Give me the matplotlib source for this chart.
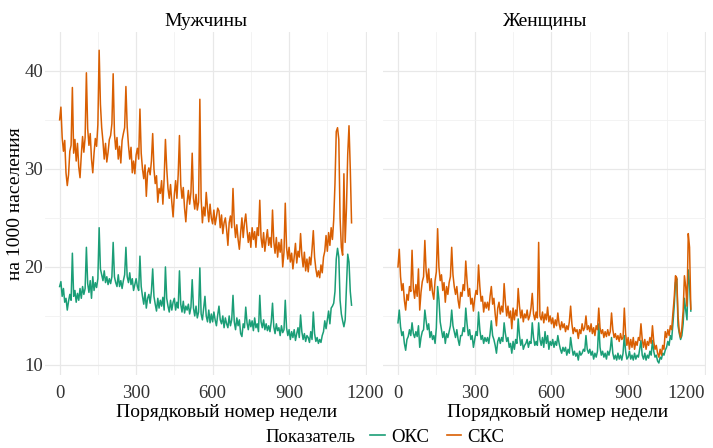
import matplotlib.pyplot as plt
from matplotlib.lines import Line2D

# ordinal week number, sampled every 5 weeks
weeks = list(range(0, 1150, 5))

# men, СКС (rows of 50 weeks)
men_sks = [
    35.0, 36.3, 33.2, 31.8, 32.9, 29.6, 28.3, 29.4, 31.8, 32.4,
    38.3, 31.6, 33.0, 30.8, 32.6, 30.2, 29.1, 31.4, 33.3, 31.7,
    33.2, 39.8, 34.1, 32.4, 33.6, 31.0, 29.6, 31.6, 33.1, 32.3,
    34.5, 42.1, 36.6, 34.2, 32.8, 31.0, 32.6, 30.7, 31.7, 33.0,
    33.4, 34.6, 39.7, 33.6, 32.0, 33.2, 31.0, 32.3, 30.6, 32.9,
    33.6, 34.2, 38.4, 34.3, 32.4, 31.0, 32.2, 29.6, 30.8, 29.5,
    31.4, 32.1, 31.0, 36.1, 31.6, 30.0, 29.0, 30.4, 27.2, 29.6,
    30.1, 29.4, 30.8, 33.6, 30.0, 28.5, 29.3, 26.6, 28.0, 27.5,
    28.8, 26.4, 29.0, 33.0, 30.1, 28.0, 27.0, 28.4, 26.6, 25.1,
    27.4, 28.8, 27.0, 29.4, 33.4, 28.4, 27.0, 28.1, 26.0, 24.6,
    26.6, 27.8, 26.4, 27.6, 31.6, 27.0, 25.9, 27.4, 25.8, 26.6,
    37.1, 27.0, 24.5, 26.1, 25.2, 27.6, 26.0, 24.6, 26.4, 25.0,
    24.4, 25.8, 24.3, 25.1, 26.0, 25.7, 24.0, 25.3, 23.4, 24.5,
    25.0, 23.8, 22.2, 24.5, 25.2, 24.0, 28.0, 24.5, 23.0, 24.3,
    22.8, 21.8, 23.5, 25.0, 23.0, 24.5, 25.4, 23.8, 22.5, 23.5,
    22.0, 24.0, 22.8, 23.6, 22.0, 24.0, 23.2, 26.8, 23.0, 22.0,
    23.5, 21.6, 22.8, 23.8, 22.2, 23.0, 22.0, 25.8, 22.6, 21.4,
    23.0, 21.0, 22.5, 21.5, 22.8, 20.0, 21.5, 26.5, 22.0, 20.8,
    22.0, 20.5, 21.4, 19.8, 21.0, 22.4, 20.4, 21.6, 21.0, 23.4,
    21.2, 20.0, 21.5, 19.6, 20.8, 19.5, 21.0, 20.2, 21.8, 23.7,
    21.0, 19.8, 19.0, 19.6, 18.9, 20.2, 19.4, 21.0, 21.6, 23.2,
    21.6, 23.5, 22.2, 24.0, 22.8, 24.8, 28.5, 33.8, 34.2, 33.0,
    25.0, 22.0, 21.2, 29.5, 22.5, 26.0, 31.5, 34.4, 30.0, 24.5,
]

# men, ОКС
men_oks = [
    18.0, 18.5, 17.0, 17.8, 16.4, 16.8, 15.6, 16.5, 17.2, 16.6,
    21.4, 17.0, 17.6, 16.4, 17.3, 16.6, 17.8, 16.8, 18.0, 17.2,
    17.8, 22.0, 18.3, 17.4, 18.6, 16.8, 19.0, 17.6, 18.4, 17.9,
    18.8, 24.0, 19.8, 19.2, 18.6, 19.6, 18.4, 19.0, 18.2, 18.8,
    18.3, 19.0, 22.5, 19.0, 18.4, 18.0, 19.2, 18.0, 18.6, 17.8,
    18.6, 19.2, 22.0, 19.0, 18.4, 19.4, 18.2, 18.8, 17.6, 18.2,
    18.8, 18.0, 17.6, 21.1, 18.0, 17.0, 16.2, 17.4, 15.8, 16.8,
    17.2, 16.3, 17.5, 19.8, 17.0, 16.2, 15.5, 16.8, 15.8, 16.6,
    16.0, 16.9, 15.6, 20.0, 16.8, 16.0, 15.4, 16.6, 15.6, 16.4,
    16.8, 15.6, 16.4, 15.8, 19.6, 16.2, 15.4, 16.5, 15.3, 16.0,
    15.6, 16.2, 15.2, 15.9, 18.7, 15.8, 15.0, 16.0, 14.8, 15.4,
    19.9, 15.2, 14.6, 15.8, 17.0, 15.0, 14.4, 15.6, 14.3, 15.2,
    14.4, 15.4, 14.6, 14.0, 15.1, 16.0, 14.6, 14.2, 15.0, 13.8,
    14.8, 14.2, 13.8, 15.0, 14.0, 14.6, 17.1, 14.4, 13.6, 14.8,
    14.0, 14.6, 13.2, 12.9, 14.2, 13.8, 15.9, 14.3, 13.6, 14.6,
    13.9, 14.5, 13.5, 14.8, 13.8, 14.2, 13.4, 17.1, 14.4, 13.8,
    14.6, 13.6, 14.2, 13.5, 14.0, 13.4, 14.4, 16.3, 13.9, 13.2,
    14.2, 13.5, 13.8, 13.0, 14.0, 13.3, 13.6, 16.6, 13.8, 13.0,
    13.6, 12.6, 13.4, 12.8, 13.6, 12.5, 13.2, 13.8, 12.8, 15.1,
    13.4, 12.6, 13.2, 12.4, 13.0, 12.8, 12.3, 13.4, 12.6, 15.4,
    13.2, 12.4, 12.8, 12.2, 12.6, 12.3, 13.0, 13.4, 14.5, 13.7,
    14.6, 15.5, 14.2, 15.8, 16.0, 16.3, 17.5, 20.8, 21.9, 21.0,
    16.6, 15.2, 14.5, 13.9, 14.6, 18.0, 21.3, 20.5, 17.5, 16.1,
]

# women, СКС
women_sks = [
    20.0, 21.8, 19.0, 17.6, 18.3, 16.6, 15.6, 17.2, 16.6, 18.0,
    17.5, 21.7, 17.8, 16.8, 18.2, 17.0, 19.8, 15.6, 17.4, 18.5,
    19.0, 22.7, 19.6, 18.4, 19.8, 17.6, 18.8, 17.4, 16.7, 18.6,
    19.5, 23.9, 20.0, 18.6, 19.2, 17.6, 18.4, 16.4, 18.0, 17.2,
    18.4, 19.0, 22.0, 19.2, 18.0, 17.2, 18.0, 16.6, 15.8, 17.4,
    17.0, 18.2, 17.6, 20.6, 18.6, 17.0, 17.8, 16.2, 16.8, 15.5,
    16.8, 17.6, 17.2, 20.2, 18.0, 16.5, 17.0, 15.4, 16.4, 15.8,
    16.4, 15.6, 17.0, 18.0, 16.2, 16.8, 15.2, 14.0, 15.8, 16.4,
    15.2, 16.0, 15.4, 18.3, 16.4, 15.0, 16.0, 14.8, 15.5, 13.7,
    15.8, 14.6, 15.6, 15.0, 17.8, 16.0, 14.8, 15.6, 14.4, 15.2,
    14.8, 15.6, 14.6, 15.0, 15.8, 17.3, 15.2, 14.6, 15.4, 14.8,
    22.5, 15.0, 14.6, 15.4, 14.3, 15.2, 14.6, 15.9, 14.4, 15.0,
    14.2, 14.8, 13.8, 14.6, 14.0, 15.3, 14.2, 13.6, 14.4, 13.8,
    14.2, 13.4, 14.0, 13.6, 14.4, 16.0, 14.2, 13.2, 13.8, 13.4,
    13.6, 12.7, 13.6, 13.2, 14.2, 13.5, 13.8, 15.0, 13.6, 14.0,
    13.4, 14.2, 13.2, 13.8, 13.0, 14.0, 13.6, 15.8, 13.8, 13.2,
    13.6, 12.8, 13.4, 12.9, 13.6, 13.0, 13.4, 15.3, 13.6, 12.8,
    13.2, 12.6, 13.0, 12.4, 13.2, 12.6, 12.8, 15.8, 13.2, 12.0,
    12.8, 11.6, 12.6, 11.8, 12.8, 11.6, 12.4, 12.0, 12.8, 12.5,
    14.2, 12.6, 11.8, 12.6, 11.6, 12.4, 12.0, 12.8, 12.2, 14.0,
    12.4, 11.6, 12.0, 11.2, 10.8, 11.6, 11.0, 12.0, 11.6, 13.4,
    12.8, 13.6, 13.0, 14.0, 13.6, 15.3, 16.8, 19.1, 18.9, 15.0,
    13.4, 12.8, 13.8, 15.5, 19.1, 18.0, 16.0, 23.4, 22.0, 15.7,
]

# women, ОКС
women_oks = [
    14.3, 15.6, 13.9, 13.0, 13.4, 12.2, 11.5, 12.6, 12.9, 13.6,
    13.0, 14.3, 13.2, 12.8, 13.4, 12.9, 14.0, 11.8, 12.8, 13.4,
    13.6, 15.6, 14.5, 13.6, 14.2, 12.8, 13.4, 12.6, 13.0, 12.2,
    13.8, 18.0, 16.7, 14.4, 13.6, 12.8, 13.4, 12.2, 13.2, 12.8,
    13.4, 14.0, 15.6, 14.0, 13.4, 12.8, 13.6, 12.6, 12.0, 13.0,
    13.0, 13.8, 13.4, 15.8, 14.2, 13.0, 13.6, 12.6, 13.0, 11.8,
    12.6, 13.4, 13.0, 15.4, 13.6, 12.6, 13.0, 12.2, 12.8, 12.4,
    12.8, 12.2, 13.2, 14.5, 13.0, 12.6, 12.0, 11.2, 12.4, 12.8,
    12.2, 12.8, 12.4, 14.3, 13.2, 12.4, 12.8, 11.8, 12.2, 11.2,
    12.4, 11.6, 12.6, 12.2, 14.7, 13.0, 12.0, 12.6, 11.6, 12.0,
    12.2, 12.6, 11.8, 12.4, 12.2, 14.3, 12.8, 12.0, 12.4, 12.0,
    14.3, 12.6, 12.0, 12.8, 11.8, 13.4, 12.2, 13.0, 11.6, 12.4,
    12.0, 12.6, 11.8, 12.4, 12.0, 13.0, 12.2, 11.6, 11.2, 11.8,
    11.4, 11.8, 11.0, 11.6, 11.2, 12.8, 11.8, 11.0, 11.4, 10.9,
    11.2, 10.5, 11.4, 11.0, 11.2, 11.6, 11.4, 13.0, 11.6, 11.2,
    11.6, 11.0, 11.4, 10.6, 11.2, 10.8, 11.4, 14.2, 11.8, 11.0,
    11.4, 10.8, 11.2, 10.6, 11.4, 11.0, 11.6, 12.8, 11.2, 10.6,
    11.0, 10.5, 11.2, 10.6, 11.0, 10.5, 11.2, 13.0, 11.4, 10.6,
    10.8, 11.4, 10.6, 11.0, 10.5, 11.2, 10.6, 11.0, 10.8, 11.6,
    12.5, 11.0, 10.6, 11.2, 10.5, 11.0, 10.7, 11.4, 11.0, 12.5,
    11.4, 10.8, 11.0, 10.4, 10.2, 10.8, 10.6, 11.2, 11.0, 11.5,
    11.8, 12.4, 12.0, 13.0, 12.6, 14.2, 16.0, 18.4, 18.8, 14.0,
    13.2, 12.6, 13.0, 14.2, 16.8, 15.6, 14.6, 19.7, 18.2, 15.5,
]

panels = ['Мужчины', 'Женщины']
series_names = ['ОКС', 'СКС']
data = {
    'Мужчины': {'ОКС': men_oks, 'СКС': men_sks},
    'Женщины': {'ОКС': women_oks, 'СКС': women_sks},
}
colors = {'ОКС': '#1b9e77', 'СКС': '#d95f02'}
x_ticks = [0, 300, 600, 900, 1200]
x_minor = [150, 450, 750, 1050]
y_ticks = [10, 20, 30, 40]
y_minor = [15, 25, 35]

plt.rcParams['font.family'] = ['Liberation Serif', 'DejaVu Serif']
fs = 13.5

fig = plt.figure(figsize=(7.13, 4.48), dpi=100)
fig.patch.set_facecolor('white')

boxes = [[0.0631, 0.163, 0.4512, 0.766], [0.5376, 0.163, 0.4526, 0.766]]
# where the x titles sit (axes fraction), as in the reference
xlab_pos = [0.563, 0.541]

for i, panel in enumerate(panels):
    ax = fig.add_axes(boxes[i])
    for name in series_names:
        ax.plot(weeks, data[panel][name], color=colors[name], lw=1.1, zorder=3)

    ax.set_xlim(-57.4, 1204.4)
    ax.set_ylim(8.98, 43.98)
    ax.set_xticks(x_ticks)
    ax.set_xticks(x_minor, minor=True)
    ax.set_yticks(y_ticks)
    ax.set_yticks(y_minor, minor=True)
    ax.grid(which='major', color='#e8e8e8', lw=0.9)
    ax.grid(which='minor', color='#f1f1f1', lw=0.6)
    ax.set_axisbelow(True)
    for s in ax.spines.values():
        s.set_visible(False)
    ax.tick_params(which='both', length=0, labelsize=fs, labelcolor='#333333')
    ax.tick_params(axis='x', pad=7)
    ax.tick_params(axis='y', pad=1.5)
    if i > 0:
        ax.tick_params(labelleft=False)
        # keep the last label inside the figure
        ax.get_xticklabels()[-1].set_ha('right')
        ax.get_xticklabels()[-1].set_x(1222)
    else:
        ax.set_ylabel('на 1000 населения', fontsize=14)
        ax.yaxis.set_label_coords(-0.066, 0.5)
    ax.set_xlabel('Порядковый номер недели', fontsize=14)
    ax.xaxis.set_label_coords(xlab_pos[i], -0.086)
    ax.set_title(panel, fontsize=14, pad=4)

# legend at the bottom, title to the left of the keys
fig.text(0.498, 0.024, 'Показатель', fontsize=fs, ha='right', va='center')
handles = [Line2D([], [], color=colors[n], lw=1.2) for n in series_names]
fig.legend(handles, series_names, loc='center left', bbox_to_anchor=(0.519, 0.024),
           ncol=2, frameon=False, fontsize=fs, handlelength=0.78,
           handletextpad=0.33, columnspacing=0.95, borderaxespad=0, borderpad=0)

fig.savefig('out.png', dpi=100)
